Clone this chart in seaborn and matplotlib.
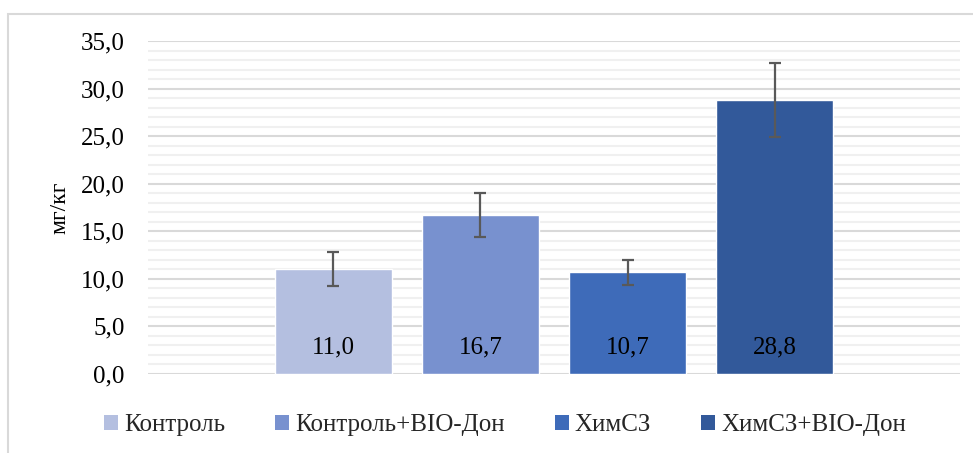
import matplotlib
matplotlib.use("Agg")
import matplotlib.pyplot as plt
import seaborn as sns
import numpy as np
from matplotlib.patches import Patch, Rectangle
from matplotlib.ticker import MultipleLocator, FuncFormatter

categories = ["Контроль", "Контроль+BIO-Дон", "ХимСЗ", "ХимСЗ+BIO-Дон"]
values = [11.0, 16.7, 10.7, 28.8]
errors = [1.8, 2.3, 1.3, 3.9]
value_labels = ["11,0", "16,7", "10,7", "28,8"]
colors = ["#B4BFE0", "#7891CF", "#3E6BB9", "#32599A"]
y_label = "мг/кг"

sns.set_theme(style="white")
plt.rcParams["font.serif"] = ["Liberation Serif", "DejaVu Serif"]
plt.rcParams["font.family"] = "serif"
SERIF = ["Liberation Serif", "DejaVu Serif"]

fig = plt.figure(figsize=(9.73, 4.53), dpi=100)
ax = fig.add_axes([148/973, 1-374/453, (960-148)/973, (374-41)/453])

sns.barplot(x=categories, y=values, hue=categories, palette=colors,
            width=0.795, legend=False, ax=ax, saturation=1, zorder=3)

ax.errorbar(x=np.arange(len(categories)), y=values, yerr=errors, fmt="none",
            ecolor="#595959", elinewidth=1.6, capsize=4.5, capthick=1.6, zorder=4)

for p, lab in zip(ax.patches, value_labels):
    ax.text(p.get_x() + p.get_width()/2, 2.8, lab, ha="center", va="center",
            fontsize=18, color="black", zorder=5, family=SERIF)

ax.set_ylim(0, 35)
ax.set_xlim(-1.26, 4.26)
ax.yaxis.set_major_locator(MultipleLocator(5))
ax.yaxis.set_minor_locator(MultipleLocator(1))
ax.yaxis.set_major_formatter(FuncFormatter(lambda v, p: f"{v:.1f}".replace(".", ",")))
ax.grid(axis="y", which="major", color="#D9D9D9", linewidth=1.5, zorder=0)
ax.grid(axis="y", which="minor", color="#F0F0F0", linewidth=1.5, zorder=0)
ax.set_axisbelow(True)
for s in ax.spines.values():
    s.set_visible(False)
ax.tick_params(axis="y", which="both", length=0, pad=17, labelsize=18, labelcolor="black")
for t in ax.get_yticklabels():
    t.set_family(SERIF)
ax.set_xticks([])
ax.set_xlabel("")
ax.set_ylabel(y_label, fontsize=17, color="black", family=SERIF)
ax.yaxis.set_label_coords(-0.095, 0.5)

handles = [Patch(facecolor=c, edgecolor="none") for c in colors]
fig.legend(handles, categories, loc="center", bbox_to_anchor=(505/973, 1-425/453),
           ncol=4, frameon=False, prop={"family": SERIF, "size": 18},
           handlelength=0.55, handleheight=0.55,
           handletextpad=0.25, columnspacing=2.0, borderpad=0)

fig.patches.append(Rectangle((8/973, -0.1), 1.2, (453-14)/453 + 0.1,
                             transform=fig.transFigure, fill=False,
                             edgecolor="#D9D9D9", linewidth=1.5))

fig.savefig("out.png", dpi=100)
